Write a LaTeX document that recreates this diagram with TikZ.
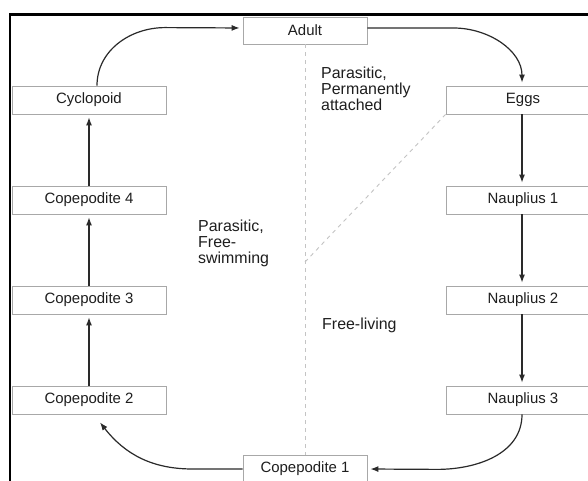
\documentclass[tikz,border=0pt]{standalone}
\usepackage{fontspec}
\setmainfont{Liberation Sans}
\usetikzlibrary{arrows.meta,calc}
\definecolor{txt}{HTML}{1E1E1E}
\definecolor{boxline}{HTML}{A8A8A8}
\definecolor{dashc}{HTML}{C4C4C4}
\definecolor{arrc}{HTML}{2A2A2A}
\tikzset{
  stage/.style={draw=boxline, line width=0.8bp, fill=white, text=txt,
    minimum height=28bp, inner sep=0pt, font=\fontsize{15}{17}\selectfont},
  sidebox/.style={stage, minimum width=154bp},
  midbox/.style={stage, minimum width=124bp},
  arr/.style={draw=arrc, line width=1.2bp, -{Latex[length=8bp,width=6bp]}, shorten >=3bp},
  dashline/.style={draw=dashc, line width=0.9bp, dash pattern=on 4bp off 4bp},
  lbl/.style={text=txt, inner sep=0pt, align=left, font=\fontsize{16}{15.7}\selectfont},
  frameline/.style={draw=black, line width=2.6bp}
}
\begin{document}
\begin{tikzpicture}[x=1bp,y=1bp]
\useasboundingbox (0,0) rectangle (588,481);
\clip (0,0) rectangle (588,481);
\fill[white] (0,0) rectangle (588,481);
% frame
\coordinate (fb) at (10,-10);
\coordinate (fc) at (10,466.3);
\coordinate (fr) at (620,466.3);
\draw[frameline] (fb) -- (fc) -- (fr);
% dashed separators
\coordinate (dj) at (305,219);
% nodes
\node[midbox, minimum height=27bp] (adult) at (305,450.5) {Adult};
\node[midbox] (cop1) at (305,12) {Copepodite 1};
\node[sidebox] (cyc) at (89,381) {Cyclopoid};
\node[sidebox] (cop4) at (89,281) {Copepodite 4};
\node[sidebox] (cop3) at (89,181) {Copepodite 3};
\node[sidebox] (cop2) at (89,81) {Copepodite 2};
\node[sidebox] (eggs) at (523,381) {Eggs};
\node[sidebox] (n1) at (523,281) {Nauplius 1};
\node[sidebox] (n2) at (523,181) {Nauplius 2};
\node[sidebox] (n3) at (523,81) {Nauplius 3};
\draw[dashline] (adult.south) -- (cop1.north);
\draw[dashline] (dj) -- (eggs.south west);
% labels
\node[lbl, anchor=north west] (lperm) at (321,414) {Parasitic,\\Permanently\\attached};
\node[lbl, anchor=north west] (lfree) at (198,261) {Parasitic,\\Free-\\swimming};
\node[lbl, anchor=north west] (lliv) at (322,163) {Free-living};
% connectors
\draw[arr] ([xshift=8bp]cyc.north) to[out=90,in=180] ++(68,58) -- ([yshift=2.5bp]adult.west);
\draw[arr] ([yshift=2.5bp]adult.east) -- ++(86,0) to[out=0,in=90] ([xshift=-1bp]eggs.north);
\draw[arr] ([xshift=-1bp]eggs.south) -- ([xshift=-1bp]n1.north);
\draw[arr] ([xshift=-1bp]n1.south) -- ([xshift=-1bp]n2.north);
\draw[arr] ([xshift=-1bp]n2.south) -- ([xshift=-1bp]n3.north);
\draw[arr] ([xshift=-1bp]n3.south) to[out=-90,in=0] ++(-85,-55) -- (cop1.east);
\draw[arr, shorten >=0pt] (cop1.west) -- ++(-50,0) to[out=180,in=-52] ([xshift=11bp,yshift=-8bp]cop2.south);
\draw[arr] (cop2.north) -- (cop3.south);
\draw[arr] (cop3.north) -- (cop4.south);
\draw[arr] (cop4.north) -- (cyc.south);
\end{tikzpicture}
\end{document}
